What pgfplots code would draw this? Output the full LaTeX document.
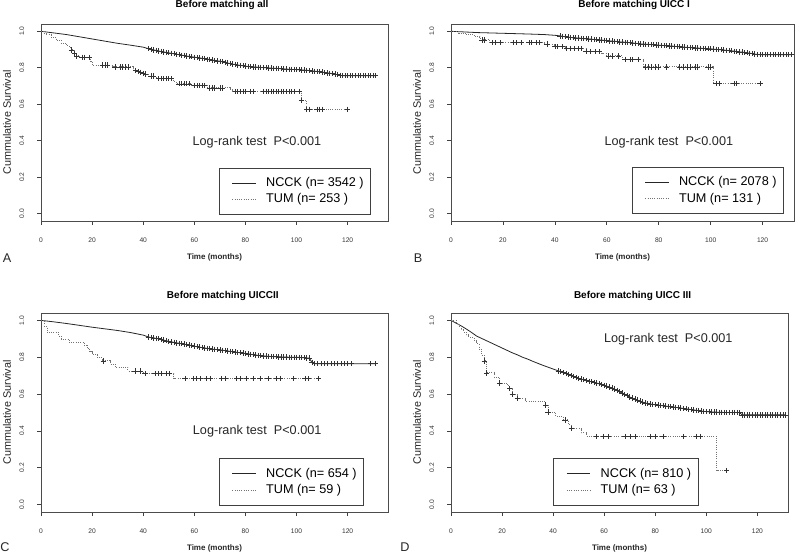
\documentclass[border=0pt]{standalone}
\usepackage{fontspec}
\setmainfont{Liberation Sans}
\usepackage{pgfplots}
\pgfplotsset{compat=1.18}
\usepackage{pgfplotstable}

\newcommand{\fs}[1]{\fontsize{#1}{#1}\selectfont}

% NCCK curves (t, survival); rows from t=42 on also carry the censor marks
\pgfplotstableread[row sep=\\]{
t s \\
0 1.000 \\ 5 0.991 \\ 10 0.982 \\ 15 0.970 \\ 20 0.958 \\ 25 0.946 \\ 30 0.934 \\ 35 0.924 \\ 40 0.913 \\
42 .905 \\ 43 .901 \\ 44 .898 \\ 45 .895 \\ 46 .892 \\ 47 .889 \\ 48 .887 \\ 49 .884 \\ 50 .882 \\
51 .879 \\ 52 .877 \\ 53 .874 \\ 54 .872 \\ 55 .869 \\ 56 .867 \\ 57 .864 \\ 58 .862 \\ 59 .860 \\
60 .858 \\ 61 .856 \\ 62 .854 \\ 63 .852 \\ 64 .850 \\ 65 .847 \\ 66 .845 \\ 67 .842 \\ 68 .840 \\
69 .838 \\ 70 .836 \\ 71 .833 \\ 72 .830 \\ 73 .826 \\ 74 .823 \\ 75 .820 \\ 76 .818 \\ 77 .815 \\
78 .813 \\ 79 .811 \\ 80 .809 \\ 81 .807 \\ 82 .806 \\ 83 .805 \\ 84 .804 \\ 85 .803 \\ 86 .802 \\
87 .801 \\ 88 .800 \\ 89 .799 \\ 90 .798 \\ 91 .797 \\ 92 .797 \\ 93 .796 \\ 94 .795 \\ 95 .794 \\
96 .793 \\ 97 .792 \\ 98 .791 \\ 99 .790 \\ 100 .790 \\ 101 .789 \\ 102 .788 \\ 103 .787 \\ 104 .786 \\
105 .785 \\ 106 .783 \\ 107 .781 \\ 108 .780 \\ 109 .778 \\ 110 .776 \\ 111 .774 \\ 112 .772 \\
113 .770 \\ 114 .767 \\ 115 .765 \\ 116 .762 \\ 117 .759 \\ 118 .756 \\ 119 .756 \\ 120 .756 \\
121 .756 \\ 122 .756 \\ 123 .756 \\ 124 .756 \\ 125 .756 \\ 126 .756 \\ 127 .756 \\ 128 .756 \\
129 .756 \\ 130 .756 \\ 131 .756 \\
}\ncckA

\pgfplotstableread[row sep=\\]{
t s \\
0 1.000 \\ 10 0.993 \\ 20 0.989 \\ 30 0.985 \\ 36 0.982 \\ 40 0.978 \\
42 .975 \\ 43 .972 \\ 44 .970 \\ 45 .968 \\ 46 .966 \\ 47 .965 \\ 48 .964 \\ 49 .963 \\ 50 .962 \\
51 .960 \\ 52 .959 \\ 53 .958 \\ 54 .957 \\ 55 .955 \\ 56 .954 \\ 57 .953 \\ 58 .952 \\ 59 .950 \\
60 .949 \\ 61 .947 \\ 62 .946 \\ 63 .945 \\ 64 .944 \\ 65 .942 \\ 66 .941 \\ 67 .940 \\ 68 .939 \\
69 .937 \\ 70 .936 \\ 71 .934 \\ 72 .933 \\ 73 .931 \\ 74 .930 \\ 75 .929 \\ 76 .928 \\ 77 .927 \\
78 .926 \\ 79 .925 \\ 80 .924 \\ 81 .923 \\ 82 .922 \\ 83 .921 \\ 84 .920 \\ 85 .919 \\ 86 .918 \\
87 .916 \\ 88 .915 \\ 89 .914 \\ 90 .913 \\ 91 .912 \\ 92 .911 \\ 93 .910 \\ 94 .909 \\ 95 .908 \\
96 .907 \\ 97 .906 \\ 98 .905 \\ 99 .904 \\ 100 .904 \\ 101 .902 \\ 102 .901 \\ 103 .900 \\ 104 .899 \\
105 .897 \\ 106 .896 \\ 107 .894 \\ 108 .893 \\ 109 .891 \\ 110 .889 \\ 111 .887 \\ 112 .886 \\
113 .884 \\ 114 .882 \\ 115 .880 \\ 116 .878 \\ 117 .875 \\ 118 .873 \\ 119 .872 \\ 120 .872 \\
121 .872 \\ 122 .872 \\ 123 .872 \\ 124 .872 \\ 125 .872 \\ 126 .872 \\ 127 .872 \\ 128 .872 \\
129 .872 \\ 130 .872 \\ 131 .872 \\
}\ncckB

\pgfplotstableread[row sep=\\]{
t s \\
0 1.000 \\ 5 0.992 \\ 10 0.983 \\ 15 0.973 \\ 20 0.963 \\ 25 0.954 \\ 30 0.945 \\ 35 0.934 \\ 40 0.920 \\
42 .910 \\ 43 .907 \\ 44 .905 \\ 45 .902 \\ 46 .900 \\ 47 .896 \\ 48 .893 \\ 49 .889 \\ 50 .886 \\
51 .883 \\ 52 .881 \\ 53 .878 \\ 54 .876 \\ 55 .873 \\ 56 .871 \\ 57 .868 \\ 58 .866 \\ 59 .863 \\
60 .860 \\ 61 .857 \\ 62 .855 \\ 63 .852 \\ 64 .850 \\ 65 .848 \\ 66 .846 \\ 67 .844 \\ 68 .843 \\
69 .841 \\ 70 .840 \\ 71 .838 \\ 72 .836 \\ 73 .834 \\ 74 .832 \\ 75 .830 \\ 76 .828 \\ 77 .826 \\
78 .824 \\ 79 .822 \\ 80 .820 \\ 81 .818 \\ 82 .816 \\ 83 .814 \\ 84 .812 \\ 85 .810 \\ 86 .808 \\
87 .807 \\ 88 .806 \\ 89 .805 \\ 90 .804 \\ 91 .803 \\ 92 .803 \\ 93 .802 \\ 94 .802 \\ 95 .801 \\
96 .801 \\ 97 .800 \\ 98 .800 \\ 99 .800 \\ 100 .800 \\ 101 .799 \\ 102 .798 \\ 103 .797 \\
104 .796 \\ 105 .795 \\ 106 .773 \\ 107 .765 \\ 108.3 .765 \\ 109.6 .765 \\ 110.9 .765 \\
112.2 .765 \\ 113.5 .765 \\ 114.8 .765 \\ 116.1 .765 \\ 117.4 .765 \\ 118.7 .765 \\ 120 .765 \\
121.3 .765 \\ 129 .765 \\ 131 .765 \\
}\ncckC

\pgfplotstableread[row sep=\\]{
t s \\
0 1.000 \\ 2 0.985 \\ 4 0.970 \\ 6 0.953 \\ 8 0.935 \\ 10 0.915 \\ 12 0.902 \\ 14 0.889 \\
16 0.876 \\ 18 0.863 \\ 20 0.850 \\ 22 0.837 \\ 24 0.824 \\ 26 0.813 \\ 28 0.800 \\ 30 0.790 \\
32 0.778 \\ 34 0.767 \\ 36 0.756 \\ 38 0.746 \\ 40 0.736 \\
42 .726 \\ 43 .721 \\ 44 .716 \\ 45 .711 \\ 46 .706 \\ 47 .700 \\ 48 .695 \\ 49 .690 \\ 50 .685 \\
51 .681 \\ 52 .678 \\ 53 .674 \\ 54 .670 \\ 55 .667 \\ 56 .663 \\ 57 .660 \\ 58 .656 \\ 59 .652 \\
60 .648 \\ 61 .643 \\ 62 .638 \\ 63 .633 \\ 64 .627 \\ 65 .620 \\ 66 .613 \\ 67 .606 \\ 68 .598 \\
69 .591 \\ 70 .584 \\ 71 .578 \\ 72 .573 \\ 73 .567 \\ 74 .562 \\ 75 .557 \\ 76 .552 \\ 77 .549 \\
78 .546 \\ 79 .544 \\ 80 .542 \\ 81 .540 \\ 82 .538 \\ 83 .537 \\ 84 .535 \\ 85 .533 \\ 86 .531 \\
87 .530 \\ 88 .528 \\ 89 .526 \\ 90 .524 \\ 91 .522 \\ 92 .520 \\ 93 .518 \\ 94 .516 \\ 95 .514 \\
96 .512 \\ 97 .510 \\ 98 .508 \\ 99 .506 \\ 100 .505 \\ 101 .504 \\ 102 .503 \\ 103 .502 \\
104 .502 \\ 105 .501 \\ 106 .501 \\ 107 .500 \\ 108 .500 \\ 109 .500 \\ 110 .500 \\ 111 .500 \\
112 .500 \\ 113 .500 \\ 114 .487 \\ 115 .487 \\ 116 .487 \\ 117 .487 \\ 118 .487 \\ 119 .487 \\
120 .487 \\ 121 .487 \\ 122 .487 \\ 123 .487 \\ 124 .487 \\ 125 .487 \\ 126 .487 \\ 127 .487 \\
128 .487 \\ 129 .487 \\ 130 .487 \\ 131 .487 \\
}\ncckD

\pgfplotsset{
  km/.style={
    scale only axis, anchor=south west,
    xmin=0, ymin=-0.04, ymax=1.04,
    xtick={0,20,40,60,80,100,120},
    ytick={0,0.2,0.4,0.6,0.8,1.0},
    tick pos=left, tick align=outside,
    major tick length=3pt,
    every tick/.style={black!75, line width=0.5pt},
    axis line style={black!70, line width=0.6pt},
    /pgf/number format/assume math mode=true,
    ticklabel style={font=\fs{5}, text=black!80},
    yticklabel style={rotate=90, anchor=south,
      /pgf/number format/.cd, fixed, fixed zerofill, precision=1},
    xticklabel shift=6pt, yticklabel shift=6pt,
    xlabel={Time (months)},
    xlabel style={font=\bfseries\fs{6}, text=black!85,
      at={(axis description cs:0.5,0)}, anchor=center, yshift=-27.5pt},
    ylabel={Cummulative Survival},
    ylabel style={font=\fs{8.1}, text=black!85, anchor=center},
    title style={font=\bfseries\fs{7.5}, anchor=center},
    legend cell align=left,
    legend image code/.code={\path (0pt,0pt); \draw[#1] (4.25pt,0pt) -- (21.75pt,0pt);},
    legend style={draw=black!75, line width=0.6pt, fill=white, anchor=south west,
      font=\fs{9.5}, inner xsep=5.25pt, inner ysep=6.75pt, row sep=3.5pt,
      nodes={inner sep=0pt, text height=7pt, text depth=2pt},
      /tikz/every odd column/.append style={column sep=7.5pt}},
  },
  ncck/.style={black!85, line width=0.6pt},
  tum/.style={black!55, densely dotted, line width=0.7pt, const plot},
  cens/.style={only marks, mark=+, mark size=2pt, black!80,
    mark options={line width=0.45pt}, forget plot},
}

\begin{document}
\begin{tikzpicture}
\useasboundingbox (0,0) rectangle (600pt,414.75pt);

% ---- A ----
\begin{axis}[km, at={(30.75pt,249pt)}, width=260.25pt, height=147.75pt, xmax=135.8,
  title={Before matching all}, title style={at={(axis description cs:0.522,1)}, yshift=8.25pt},
  ylabel style={at={(axis description cs:-0.098,0.5)}},
  legend style={at={(axis cs:69.6,-0.007)}}]
  \addplot[ncck] table[x=t,y=s] {\ncckA};
  \addlegendentry{NCCK (n= 3542 )}
  \addplot[tum] coordinates {
    (0,1.0)(1,0.99)(2,0.98)(4,0.965)(6,0.95)(8,0.935)(10,0.92)(11,0.91)(12,0.898)
    (13,0.88)(14,0.865)(15,0.858)(19.5,0.835)(20,0.815)(28,0.805)(36,0.795)(37,0.785)
    (38,0.78)(39,0.775)(40,0.77)(41,0.765)(42,0.755)(45,0.745)(46,0.74)(52,0.725)
    (53,0.712)(59,0.703)(65,0.69)(74,0.68)(75,0.67)(102,0.62)(104,0.572)(120,0.572)};
  \addlegendentry{TUM (n= 253 )}
  \addplot[cens, restrict x to domain=42:131] table[x=t,y=s] {\ncckA};
  \addplot[cens] coordinates {
    (12,0.898)(13,0.88)(14,0.865)(16,0.858)(17,0.858)(19,0.858)(24,0.815)(25,0.815)
    (26,0.815)(29,0.805)(31,0.805)(32,0.805)(33,0.805)(34,0.805)(37,0.785)(38,0.78)
    (39,0.775)(40,0.77)(41,0.765)(43,0.755)(44,0.755)(46,0.74)(47,0.74)(48,0.74)
    (49,0.74)(50,0.74)(51,0.74)(54,0.712)(55,0.712)(56,0.712)(57,0.712)(58,0.712)
    (60,0.703)(61,0.703)(62,0.703)(63,0.703)(64,0.703)(66,0.69)(67,0.69)(68,0.69)
    (70,0.69)(71,0.69)(76,0.67)(77,0.67)(78,0.67)(79,0.67)(80,0.67)(82,0.67)(83,0.67)
    (87,0.67)(88,0.67)(89,0.67)(90,0.67)(91,0.67)(92,0.67)(93,0.67)(94,0.67)(95,0.67)
    (96,0.67)(97,0.67)(98,0.67)(99,0.67)(101,0.67)(102,0.62)(104,0.572)(105,0.572)
    (108,0.572)(109,0.572)(110,0.572)(120,0.572)};
  \node[font=\fs{9.5}, text=black!85] at (axis cs:84.5,0.393) {Log-rank test\ \ P<0.001};
\end{axis}

% ---- B ----
\begin{axis}[km, at={(338.25pt,249pt)}, width=257.25pt, height=147.75pt, xmax=132.1,
  title={Before matching UICC I}, title style={at={(axis description cs:0.534,1)}, yshift=8.25pt},
  ylabel style={at={(axis description cs:-0.099,0.5)}},
  legend style={at={(axis cs:69.6,-0.003)}}]
  \addplot[ncck] table[x=t,y=s] {\ncckB};
  \addlegendentry{NCCK (n= 2078 )}
  \addplot[tum] coordinates {
    (0,1.0)(3,0.99)(6,0.98)(9,0.97)(11,0.96)(12,0.953)(15,0.937)(36,0.93)(40,0.915)
    (44,0.905)(52,0.888)(58,0.878)(60,0.865)(66,0.845)(74,0.805)(101,0.714)(120,0.714)};
  \addlegendentry{TUM (n= 131 )}
  \addplot[cens, restrict x to domain=42:131] table[x=t,y=s] {\ncckB};
  \addplot[cens] coordinates {
    (12,0.953)(13,0.953)(16,0.937)(17,0.937)(19,0.937)(24,0.937)(25,0.937)(27,0.937)
    (30,0.937)(31,0.937)(33,0.937)(34,0.937)(37,0.93)(40,0.915)(41,0.915)(43,0.915)
    (44.5,0.905)(46,0.905)(47.5,0.905)(49,0.905)(50,0.905)(52,0.888)(53.5,0.888)
    (55.5,0.888)(57,0.888)(60.6,0.865)(62,0.865)(64.4,0.865)(67,0.845)(69,0.845)
    (70,0.845)(72,0.845)(75,0.805)(76,0.805)(77,0.805)(78.5,0.805)(80,0.805)(83,0.805)
    (88,0.805)(89.5,0.805)(91,0.805)(92,0.805)(94,0.805)(95,0.805)(99,0.805)(100,0.805)
    (102,0.714)(103.5,0.714)(109,0.714)(110,0.714)(119,0.714)};
  \node[font=\fs{9.5}, text=black!85] at (axis cs:83.9,0.393) {Log-rank test\ \ P<0.001};
\end{axis}

% ---- C ----
\begin{axis}[km, at={(30.75pt,30.75pt)}, width=260.25pt, height=149.25pt, xmax=135.8,
  title={Before matching UICCII}, title style={at={(axis description cs:0.524,1)}, yshift=7pt},
  ylabel style={at={(axis description cs:-0.098,0.5)}},
  legend style={at={(axis cs:69.6,-0.007)}}]
  \addplot[ncck] table[x=t,y=s] {\ncckC};
  \addlegendentry{NCCK (n= 654 )}
  \addplot[tum] coordinates {
    (0,1.0)(1.5,0.966)(2.5,0.932)(7,0.915)(8,0.898)(11,0.881)(17,0.864)(18,0.847)
    (19,0.83)(20,0.813)(22,0.796)(24,0.78)(27,0.763)(29,0.745)(34,0.725)(40,0.711)
    (52,0.684)(109,0.684)};
  \addlegendentry{TUM (n= 59 )}
  \addplot[cens, restrict x to domain=42:131] table[x=t,y=s] {\ncckC};
  \addplot[cens] coordinates {
    (24.4,0.78)(36.8,0.725)(38.7,0.725)(40.7,0.711)(44.6,0.711)(45.9,0.711)(47.2,0.711)
    (49.1,0.711)(50.4,0.711)(56.3,0.684)(59.6,0.684)(60.9,0.684)(62.2,0.684)(64.8,0.684)
    (66.1,0.684)(70.7,0.684)(72,0.684)(76.6,0.684)(77.9,0.684)(80.5,0.684)(83.1,0.684)
    (85.7,0.684)(88.9,0.684)(92.2,0.684)(93.5,0.684)(98.7,0.684)(103.3,0.684)
    (104.6,0.684)(108.5,0.684)};
  \node[font=\fs{9.5}, text=black!85] at (axis cs:84.6,0.396) {Log-rank test\ \ P<0.001};
\end{axis}

% ---- D ----
\begin{axis}[km, at={(338.25pt,30.75pt)}, width=252.75pt, height=149.25pt, xmax=132.0,
  title={Before matching UICC III}, title style={at={(axis description cs:0.539,1)}, yshift=7pt},
  ylabel style={at={(axis description cs:-0.101,0.5)}},
  legend style={at={(axis cs:40.1,-0.007)}}]
  \addplot[ncck] table[x=t,y=s] {\ncckD};
  \addlegendentry{NCCK (n= 810 )}
  \addplot[tum] coordinates {
    (0,1.0)(2,0.984)(3,0.968)(4,0.952)(5,0.937)(6,0.921)(7,0.905)(9,0.889)(10,0.873)
    (11,0.841)(12,0.81)(13,0.78)(14,0.715)(17,0.69)(19,0.66)(22,0.645)(23,0.63)
    (24,0.597)(26,0.575)(29,0.56)(37,0.54)(38,0.502)(41,0.48)(44,0.46)(46,0.437)
    (47,0.413)(51,0.39)(53,0.37)(104,0.185)(108,0.185)};
  \addlegendentry{TUM (n= 63 )}
  \addplot[cens, restrict x to domain=42:131] table[x=t,y=s] {\ncckD};
  \addplot[cens] coordinates {
    (13,0.78)(14,0.715)(19,0.66)(23,0.63)(24,0.597)(26,0.575)(37,0.54)(38,0.502)
    (44.7,0.46)(47.3,0.413)(57.1,0.37)(59.7,0.37)(61.6,0.37)(68.2,0.37)(70.1,0.37)
    (72.1,0.37)(77.9,0.37)(79.9,0.37)(83,0.37)(91,0.37)(96.2,0.37)(97.5,0.37)(108,0.185)};
  \node[font=\fs{9.5}, text=black!85] at (axis cs:85.1,0.90) {Log-rank test\ \ P<0.001};
\end{axis}

\node[font=\fs{9.5}, text=black!85] at (5.25pt,221.25pt) {A};
\node[font=\fs{9.5}, text=black!85] at (313.5pt,221.25pt) {B};
\node[font=\fs{9.5}, text=black!85] at (3.75pt,4.5pt) {C};
\node[font=\fs{9.5}, text=black!85] at (303.75pt,4.5pt) {D};
\end{tikzpicture}
\end{document}
